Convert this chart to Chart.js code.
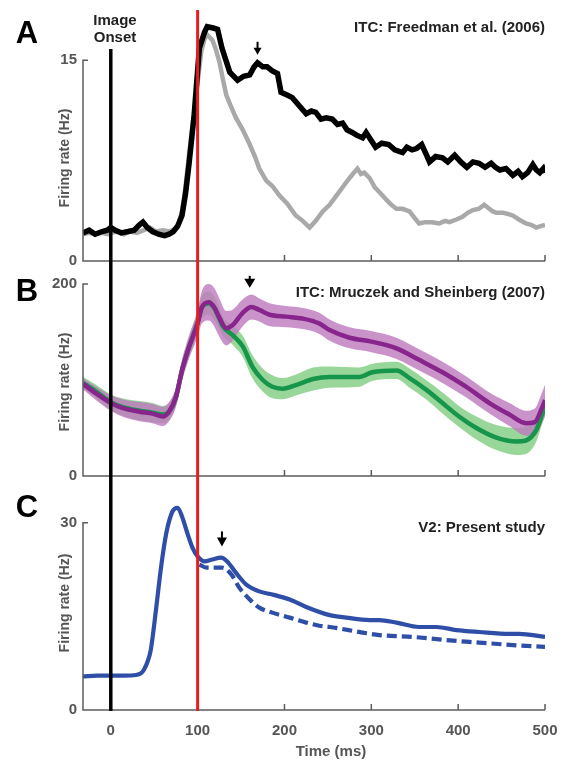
<!DOCTYPE html>
<html>
<head>
<meta charset="utf-8">
<script src="https://cdn.jsdelivr.net/npm/chart.js@4.4.1/dist/chart.umd.min.js"></script>
<style>
  body { margin: 0; background: #fff; }
  #fig { position: relative; width: 564px; height: 761px; background: #fff; }
  #fig canvas { position: absolute; left: 0; }
</style>
</head>
<body>
<div id="fig">
  <canvas id="panelA" width="564" height="268" style="top:0px"></canvas>
  <canvas id="panelB" width="564" height="218" style="top:268px"></canvas>
  <canvas id="panelC" width="564" height="275" style="top:486px"></canvas>
</div>
<script>
// Panel A - ITC, Freedman et al. (2006)
const aBlackT = [-32, -25, -18, -10, -4, 0, 5, 12, 20, 27, 33, 37, 42, 48, 55, 62, 67, 72, 77, 82,
  86, 90, 96, 102, 108, 111, 118, 123, 128, 137, 146, 153, 160, 165, 169, 175, 180, 186, 192, 196,
  203, 209, 217, 225, 231, 236, 242, 248, 255, 261, 267, 272, 278, 283, 290, 294, 299, 305, 312, 320,
  327, 336, 341, 347, 352, 358, 363, 367, 374, 382, 388, 396, 403, 410, 417, 424, 431, 438, 443, 448,
  455, 463, 469, 474, 480, 486, 490, 494, 498, 500];
const aBlackHz = [2.1, 2.3, 2.0, 2.2, 2.3, 2.5, 2.3, 2.1, 2.2, 2.3, 2.7, 2.9, 2.5, 2.2, 2.0, 1.9, 2.0, 2.2, 2.6, 3.4,
  5.0, 7.2, 10.9, 15.9, 17.1, 17.5, 17.4, 17.3, 15.9, 14.1, 13.5, 13.8, 13.9, 14.5, 14.8, 14.5, 14.5, 14.2, 14.0, 12.6,
  12.4, 12.2, 11.6, 11.0, 11.2, 11.1, 10.6, 10.7, 10.6, 10.2, 10.3, 9.8, 9.6, 9.4, 9.2, 9.6, 9.1, 8.5, 8.8, 8.7,
  8.3, 8.1, 8.5, 8.3, 8.4, 8.7, 8.0, 7.4, 7.8, 7.7, 7.4, 7.9, 7.4, 7.0, 7.4, 7.3, 7.0, 7.3, 7.0, 6.8,
  6.9, 6.4, 6.7, 6.3, 6.6, 7.2, 6.8, 6.6, 6.9, 6.6];
const aGrayT = [-32, -25, -18, -10, -4, 0, 8, 15, 22, 30, 38, 45, 52, 60, 68, 74, 78, 82, 86, 90,
  98, 104, 108, 111, 117, 121, 125, 129, 133, 138, 144, 152, 160, 166, 171, 179, 186, 194, 203, 213,
  221, 229, 236, 244, 252, 260, 268, 275, 280, 284, 288, 292, 298, 304, 310, 317, 323, 329, 336, 344,
  350, 355, 362, 370, 378, 385, 390, 398, 405, 411, 417, 424, 430, 434, 440, 444, 452, 458, 463, 470,
  478, 484, 490, 495, 500];
const aGrayHz = [2.0, 2.1, 2.0, 2.1, 2.0, 2.1, 2.2, 2.0, 2.2, 2.1, 2.3, 2.5, 2.2, 2.3, 2.2, 2.4, 2.8, 3.7, 5.5, 7.9,
  12.2, 15.6, 16.6, 16.9, 16.5, 15.8, 14.9, 13.6, 12.4, 11.6, 10.7, 9.8, 8.7, 7.8, 6.9, 6.0, 5.6, 4.9, 4.3, 3.4,
  3.0, 2.5, 3.0, 3.7, 4.2, 4.9, 5.6, 6.2, 6.6, 6.9, 6.5, 6.6, 6.2, 5.5, 5.1, 4.6, 4.2, 3.9, 3.9, 3.7,
  3.2, 2.8, 2.9, 2.9, 2.8, 3.0, 2.9, 3.1, 3.3, 3.6, 3.8, 3.9, 4.2, 4.0, 3.7, 3.6, 3.6, 3.5, 3.4, 3.1,
  2.8, 2.7, 2.5, 2.6, 2.7];

// Panel B - ITC, Mruczek and Sheinberg (2007): mean and band half-width
const bPurpleT = [-32, -17, 0, 13, 33, 48, 60, 67, 75, 82, 90, 100, 105, 113, 119, 125, 133, 140, 152, 162,
  171, 183, 202, 221, 240, 252, 275, 300, 329, 355, 382, 409, 436, 459, 478, 488, 497, 500];
const bPurpleHz = [96, 86, 76, 71, 67, 65, 62, 67, 82, 110, 134, 159, 176, 181, 176, 165, 154, 157, 170, 176,
  173, 168, 166, 164, 159, 152, 144, 140, 133, 121, 108, 93, 76, 64, 55, 56, 72, 79];
const bPurpleErr = [6, 7, 8, 9, 10, 10, 10, 10, 10, 11, 12, 14, 17, 19, 20, 20, 18, 16, 14, 13,
  12, 12, 11, 11, 11, 11, 11, 11, 11, 11, 11, 11, 11, 12, 13, 14, 16, 16];
const bGreenT = [-32, -17, 0, 13, 33, 48, 60, 67, 75, 82, 90, 100, 105, 113, 119, 125, 129, 140, 152, 163,
  175, 186, 198, 214, 233, 252, 286, 301, 329, 344, 363, 382, 401, 421, 444, 467, 478, 490, 497, 500];
const bGreenHz = [97, 88, 77, 72, 68, 66, 64, 67, 82, 110, 134, 160, 176, 180, 175, 164, 156, 147, 135, 114,
  100, 93, 91, 95, 101, 103, 103, 108, 110, 102, 90, 76, 62, 50, 40, 36, 37, 48, 65, 72];
const bGreenErr = [6, 7, 8, 9, 10, 10, 9, 9, 9, 10, 10, 11, 12, 12, 12, 11, 10, 10, 11, 12,
  12, 12, 11, 11, 12, 11, 10, 9, 9, 10, 10, 11, 11, 12, 13, 14, 14, 12, 10, 10];

// Panel C - V2, present study
const cSolidT = [-32, -15, 0, 15, 29, 35, 38, 42, 46, 52, 58, 64, 71, 77, 82, 88, 94, 100, 108, 117,
  127, 134, 144, 156, 171, 186, 206, 225, 252, 271, 298, 309, 329, 355, 375, 398, 424, 459, 470, 500];
const cSolidHz = [5.4, 5.5, 5.5, 5.5, 5.6, 5.9, 6.4, 7.6, 9.6, 16.0, 23.0, 28.4, 31.8, 32.4, 31.0, 28.4, 26.0, 24.6, 23.8, 24.1,
  24.4, 23.8, 22.0, 20.1, 19.0, 18.5, 17.7, 16.5, 15.2, 14.8, 14.4, 14.4, 14.0, 13.3, 13.3, 12.8, 12.5, 12.2, 12.2, 11.7];
const cDashT = [102, 110, 117, 128, 139, 148, 160, 171, 186, 206, 225, 240, 252, 290, 309, 348, 386, 424, 463, 500];
const cDashHz = [23.3, 22.8, 22.8, 22.8, 21.7, 19.6, 17.7, 16.4, 15.6, 14.8, 14.0, 13.5, 13.3, 12.4, 12.0, 11.7, 11.2, 10.8, 10.4, 10.1];

const xTickVals = [0, 100, 200, 300, 400, 500];
const FONT = '"Liberation Sans", Arial, Helvetica, sans-serif';

function pts(ts, vs) {
  return ts.map((t, i) => ({ x: t, y: vs[i] }));
}

function drawArrow(ctx, x, tipY, a) {
  ctx.fillStyle = '#000';
  ctx.fillRect(x - 1, tipY - a.h - a.shaft, 2, a.shaft + 1);
  ctx.beginPath();
  ctx.moveTo(x - a.w / 2, tipY - a.h);
  ctx.lineTo(x + a.w / 2, tipY - a.h);
  ctx.lineTo(x, tipY);
  ctx.closePath();
  ctx.fill();
}

function panelPlugin(p) {
  return {
    id: 'panel' + p.letter,
    afterDatasetsDraw(chart) {
      const ctx = chart.ctx;
      const xs = chart.scales.x, ys = chart.scales.y;
      const area = chart.chartArea;
      const y0 = ys.getPixelForValue(0);
      const yTop = ys.getPixelForValue(p.yTop);
      ctx.save();

      // axes with inward ticks
      ctx.strokeStyle = '#5c5c5c';
      ctx.lineWidth = 1.5;
      ctx.beginPath();
      ctx.moveTo(area.left + 5, yTop);
      ctx.lineTo(area.left, yTop);
      ctx.lineTo(area.left, y0);
      ctx.lineTo(area.right, y0);
      xTickVals.forEach(t => {
        const px = xs.getPixelForValue(t);
        ctx.moveTo(px, y0);
        ctx.lineTo(px, y0 - 6);
      });
      ctx.stroke();

      // image onset and 100 ms markers
      const bottom = p.toAxis ? y0 + 1 : chart.height;
      const x0 = xs.getPixelForValue(0), x100 = xs.getPixelForValue(100);
      ctx.lineWidth = 3.5;
      ctx.strokeStyle = '#000';
      ctx.beginPath();
      ctx.moveTo(x0, p.blackTop);
      ctx.lineTo(x0, bottom);
      ctx.stroke();
      ctx.lineWidth = 3;
      ctx.strokeStyle = '#e41e1e';
      ctx.beginPath();
      ctx.moveTo(x100, p.redTop);
      ctx.lineTo(x100, bottom);
      ctx.stroke();

      drawArrow(ctx, xs.getPixelForValue(p.arrow.t), ys.getPixelForValue(p.arrow.v), p.arrow);

      // texts
      ctx.textBaseline = 'middle';
      ctx.fillStyle = '#000';
      ctx.textAlign = 'center';
      ctx.font = 'bold 31px ' + FONT;
      ctx.fillText(p.letter, 27, p.letterY);

      ctx.fillStyle = '#222';
      ctx.textAlign = 'right';
      ctx.font = 'bold 15px ' + FONT;
      ctx.fillText(p.title, area.right, p.titleY);

      if (p.onset) {
        ctx.textAlign = 'center';
        ctx.font = 'bold 15px ' + FONT;
        ctx.fillText('Image', 115, 21);
        ctx.fillText('Onset', 115, 38);
      }

      ctx.fillStyle = '#555';
      ctx.font = 'bold 14px ' + FONT;
      ctx.textAlign = 'center';
      ctx.save();
      ctx.translate(65, p.yTitleY);
      ctx.rotate(-Math.PI / 2);
      ctx.fillText('Firing rate (Hz)', 0, 0);
      ctx.restore();

      if (p.xTitle) {
        ctx.font = 'bold 15px ' + FONT;
        ctx.fillText('Time (ms)', 331, 266);
      }
      ctx.restore();
    }
  };
}

function makePanel(id, datasets, yMax, yTicks, pad, p, showX) {
  return new Chart(document.getElementById(id), {
    type: 'line',
    data: { datasets: datasets },
    options: {
      responsive: false,
      animation: false,
      devicePixelRatio: 1,
      layout: { padding: { left: 0, right: 19, top: pad.top, bottom: pad.bottom } },
      elements: { point: { radius: 0 } },
      plugins: { legend: { display: false }, tooltip: { enabled: false } },
      scales: {
        x: {
          type: 'linear', min: -32, max: 500,
          display: showX,
          grid: { display: false, drawTicks: false },
          border: { display: false },
          afterBuildTicks: s => { s.ticks = xTickVals.map(v => ({ value: v })); },
          afterFit: s => {
            if (showX) s.height = 51;
            s.paddingLeft = 0;
            s.paddingRight = 0;
          },
          ticks: { color: '#555', padding: 12, maxRotation: 0, font: { family: FONT, size: 15, weight: 'bold' } }
        },
        y: {
          min: 0, max: yMax,
          grid: { display: false, drawTicks: false },
          border: { display: false },
          afterBuildTicks: s => { s.ticks = yTicks.map(v => ({ value: v })); },
          afterFit: s => {
            s.width = 83;
            s.paddingTop = 0;
            s.paddingBottom = 0;
          },
          ticks: { color: '#555', padding: 6, font: { family: FONT, size: 15, weight: 'bold' } }
        }
      }
    },
    plugins: [panelPlugin(p)]
  });
}

// Panel A
makePanel('panelA', [
  { data: pts(aBlackT, aBlackHz), borderColor: '#000', borderWidth: 5.5, tension: 0 },
  { data: pts(aGrayT, aGrayHz), borderColor: '#a9a9a9', borderWidth: 4.5, tension: 0 }
], 18, [0, 15], { top: 20, bottom: 7 }, {
  letter: 'A', letterY: 34, title: 'ITC: Freedman et al. (2006)', titleY: 28, yTitleY: 158,
  yTop: 15, blackTop: 49, redTop: 10, onset: true,
  arrow: { t: 169, v: 15.4, w: 8, h: 7, shaft: 6 }
}, false);

// Panel B
const purpleUp = bPurpleHz.map((v, i) => v + bPurpleErr[i]);
const purpleLo = bPurpleHz.map((v, i) => v - bPurpleErr[i]);
const greenUp = bGreenHz.map((v, i) => v + bGreenErr[i]);
const greenLo = bGreenHz.map((v, i) => v - bGreenErr[i]);
const smooth = { cubicInterpolationMode: 'monotone' };
makePanel('panelB', [
  Object.assign({ data: pts(bPurpleT, bPurpleHz), borderColor: '#88258c', borderWidth: 4.5, order: 1 }, smooth),
  Object.assign({ data: pts(bGreenT, bGreenHz), borderColor: '#16964a', borderWidth: 4.5, order: 2 }, smooth),
  Object.assign({ data: pts(bPurpleT, purpleUp), borderWidth: 0, fill: 3, backgroundColor: 'rgba(190,125,192,0.82)', order: 3 }, smooth),
  Object.assign({ data: pts(bPurpleT, purpleLo), borderWidth: 0, order: 3 }, smooth),
  Object.assign({ data: pts(bGreenT, greenUp), borderWidth: 0, fill: 5, backgroundColor: 'rgba(70,180,70,0.55)', order: 4 }, smooth),
  Object.assign({ data: pts(bGreenT, greenLo), borderWidth: 0, order: 4 }, smooth)
], 200, [0, 200], { top: 16, bottom: 10 }, {
  letter: 'B', letterY: 24, title: 'ITC: Mruczek and Sheinberg (2007)', titleY: 25, yTitleY: 114,
  yTop: 200, blackTop: 0, redTop: 0,
  arrow: { t: 160, v: 196, w: 11, h: 9, shaft: 3 }
}, false);

// Panel C
makePanel('panelC', [
  Object.assign({ data: pts(cSolidT, cSolidHz), borderColor: '#2f4ea7', borderWidth: 4.2, order: 1 }, smooth),
  Object.assign({ data: pts(cDashT, cDashHz), borderColor: '#2f4ea7', borderWidth: 4.2, borderDash: [10, 5], order: 2 }, smooth)
], 33, [0, 30], { top: 18, bottom: 0 }, {
  letter: 'C', letterY: 22, title: 'V2: Present study', titleY: 42, yTitleY: 117,
  yTop: 30, blackTop: 0, redTop: 0, toAxis: true, xTitle: true,
  arrow: { t: 128, v: 26.2, w: 10, h: 9, shaft: 6 }
}, true);
</script>
</body>
</html>
